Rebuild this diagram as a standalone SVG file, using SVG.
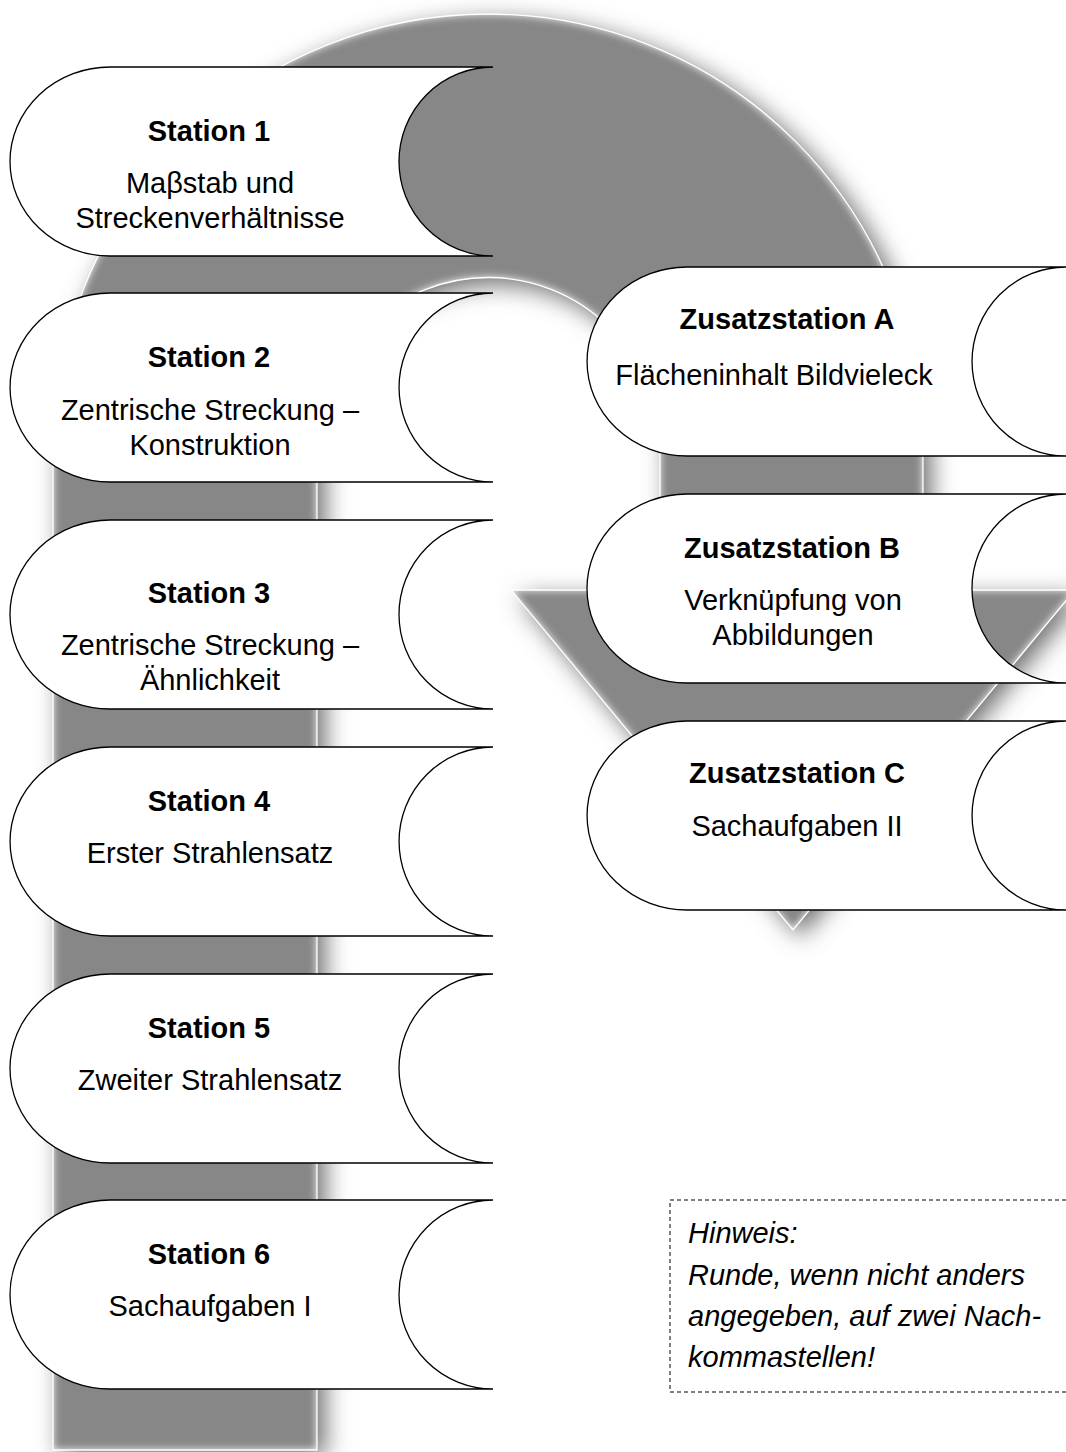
<svg xmlns="http://www.w3.org/2000/svg" width="1066" height="1452" viewBox="0 0 1066 1452">
  <style>
    .node { fill: #ffffff; stroke: #000000; stroke-width: 1.3; }
    .title { font-family: "Liberation Sans", Arial, sans-serif; font-size: 29px; font-weight: bold; fill: #000; text-anchor: middle; }
    .body { font-family: "Liberation Sans", Arial, sans-serif; font-size: 29px; fill: #000; text-anchor: middle; }
    .note { font-family: "Liberation Sans", Arial, sans-serif; font-size: 29px; font-style: italic; fill: #000; }
  </style>
  <defs>
    <filter id="soft" x="-10%" y="-10%" width="125%" height="125%">
      <feGaussianBlur in="SourceAlpha" stdDeviation="12" result="b"/>
      <feOffset in="b" dx="8" dy="7" result="o"/>
      <feComposite in="o" in2="SourceAlpha" operator="out" result="sh"/>
      <feFlood flood-color="#6e6e6e" flood-opacity="1"/>
      <feComposite in2="sh" operator="in" result="shadow"/>
      <feGaussianBlur in="SourceGraphic" stdDeviation="4.5" result="g"/>
      <feComposite in="g" in2="SourceAlpha" operator="in" result="inner"/>
      <feMerge><feMergeNode in="shadow"/><feMergeNode in="inner"/></feMerge>
    </filter>
    <path id="arrowShape" d="M 53,1450 V 449 A 435 435 0 0 1 923,449 V 590 H 1075 L 793,930 L 511,590 H 660 V 449 A 171.5 171.5 0 0 0 317,449 V 1450 Z"/>
  </defs>

  <g id="arrow">
    <use href="#arrowShape" fill="#878787" filter="url(#soft)"/>
    <use href="#arrowShape" fill="none" stroke="#ffffff" stroke-width="1.3"/>
  </g>

  <g id="connectors"></g>

  <g id="station1">
    <path class="node" d="M 493,67 H 110 A 100 94.5 0 0 0 110,256 H 493 A 94 94.5 0 0 1 493,67 Z"/>
    <text class="title" x="209" y="141">Station 1</text>
    <text class="body" x="210" y="193">Maβstab und</text>
    <text class="body" x="210" y="228">Streckenverhältnisse</text>
  </g>

  <g id="station2">
    <path class="node" d="M 493,293 H 110 A 100 94.5 0 0 0 110,482 H 493 A 94 94.5 0 0 1 493,293 Z"/>
    <text class="title" x="209" y="367">Station 2</text>
    <text class="body" x="210" y="420">Zentrische Streckung –</text>
    <text class="body" x="210" y="455">Konstruktion</text>
  </g>

  <g id="station3">
    <path class="node" d="M 493,520 H 110 A 100 94.5 0 0 0 110,709 H 493 A 94 94.5 0 0 1 493,520 Z"/>
    <text class="title" x="209" y="603">Station 3</text>
    <text class="body" x="210" y="655">Zentrische Streckung –</text>
    <text class="body" x="210" y="690">Ähnlichkeit</text>
  </g>

  <g id="station4">
    <path class="node" d="M 493,747 H 110 A 100 94.5 0 0 0 110,936 H 493 A 94 94.5 0 0 1 493,747 Z"/>
    <text class="title" x="209" y="811">Station 4</text>
    <text class="body" x="210" y="863">Erster Strahlensatz</text>
  </g>

  <g id="station5">
    <path class="node" d="M 493,974 H 110 A 100 94.5 0 0 0 110,1163 H 493 A 94 94.5 0 0 1 493,974 Z"/>
    <text class="title" x="209" y="1038">Station 5</text>
    <text class="body" x="210" y="1090">Zweiter Strahlensatz</text>
  </g>

  <g id="station6">
    <path class="node" d="M 493,1200 H 110 A 100 94.5 0 0 0 110,1389 H 493 A 94 94.5 0 0 1 493,1200 Z"/>
    <text class="title" x="209" y="1264">Station 6</text>
    <text class="body" x="210" y="1316">Sachaufgaben I</text>
  </g>

  <g id="zusatzA">
    <path class="node" d="M 1066,267 H 687 A 100 94.5 0 0 0 687,456 H 1066 A 94 94.5 0 0 1 1066,267 Z"/>
    <text class="title" x="787" y="329">Zusatzstation A</text>
    <text class="body" x="774" y="385">Flächeninhalt Bildvieleck</text>
  </g>

  <g id="zusatzB">
    <path class="node" d="M 1066,494 H 687 A 100 94.5 0 0 0 687,683 H 1066 A 94 94.5 0 0 1 1066,494 Z"/>
    <text class="title" x="792" y="558">Zusatzstation B</text>
    <text class="body" x="793" y="610">Verknüpfung von</text>
    <text class="body" x="793" y="645">Abbildungen</text>
  </g>

  <g id="zusatzC">
    <path class="node" d="M 1066,721 H 687 A 100 94.5 0 0 0 687,910 H 1066 A 94 94.5 0 0 1 1066,721 Z"/>
    <text class="title" x="797" y="783">Zusatzstation C</text>
    <text class="body" x="797" y="836">Sachaufgaben II</text>
  </g>

  <g id="hinweis">
    <rect x="670" y="1200" width="410" height="192" fill="none" stroke="#000" stroke-width="1" stroke-dasharray="4,3"/>
    <text class="note" x="688" y="1243">Hinweis:</text>
    <text class="note" x="688" y="1285">Runde, wenn nicht anders</text>
    <text class="note" x="688" y="1326">angegeben, auf zwei Nach-</text>
    <text class="note" x="688" y="1367">kommastellen!</text>
  </g>
</svg>
